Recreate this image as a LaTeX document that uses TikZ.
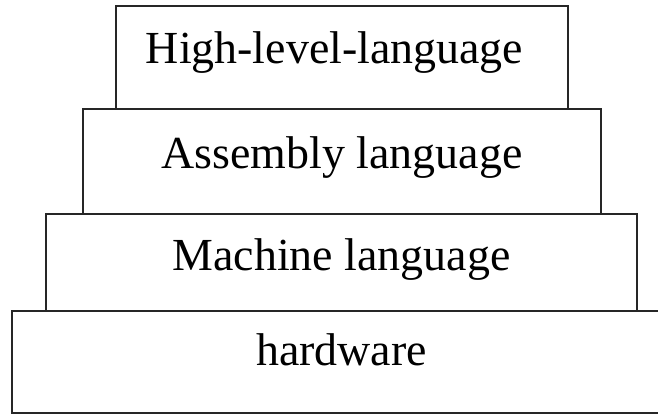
\documentclass[tikz,border=0pt]{standalone}
\usepackage{fontspec}
\setmainfont{Liberation Serif}
\begin{document}
\begin{tikzpicture}[x=1pt,y=-1pt,
  layer/.style={draw=black!85, line width=2pt, fill=white},
  lbl/.style={anchor=base, inner sep=0pt, font=\fontsize{45.9}{50}\selectfont}]
\useasboundingbox (0,0) rectangle (658,415);
\fill[white] (0,0) rectangle (658,415);
\path[layer] (116,6) rectangle (568,109) coordinate (topbox);
\path[layer] (83,109) rectangle (601,214) coordinate (asmbox);
\path[layer] (46,214) rectangle (637,311) coordinate (macbox);
\path[layer] (12,311) rectangle (680,413) coordinate (hwbox);
\node[lbl] (hll) at (334.5,63) {High-level-language};
\node[lbl] (asm) at (342,168) {Assembly language};
\node[lbl] (mac) at (341.5,270) {Machine language};
\node[lbl] (hw) at (341.5,365) {hardware};
\end{tikzpicture}
\end{document}
